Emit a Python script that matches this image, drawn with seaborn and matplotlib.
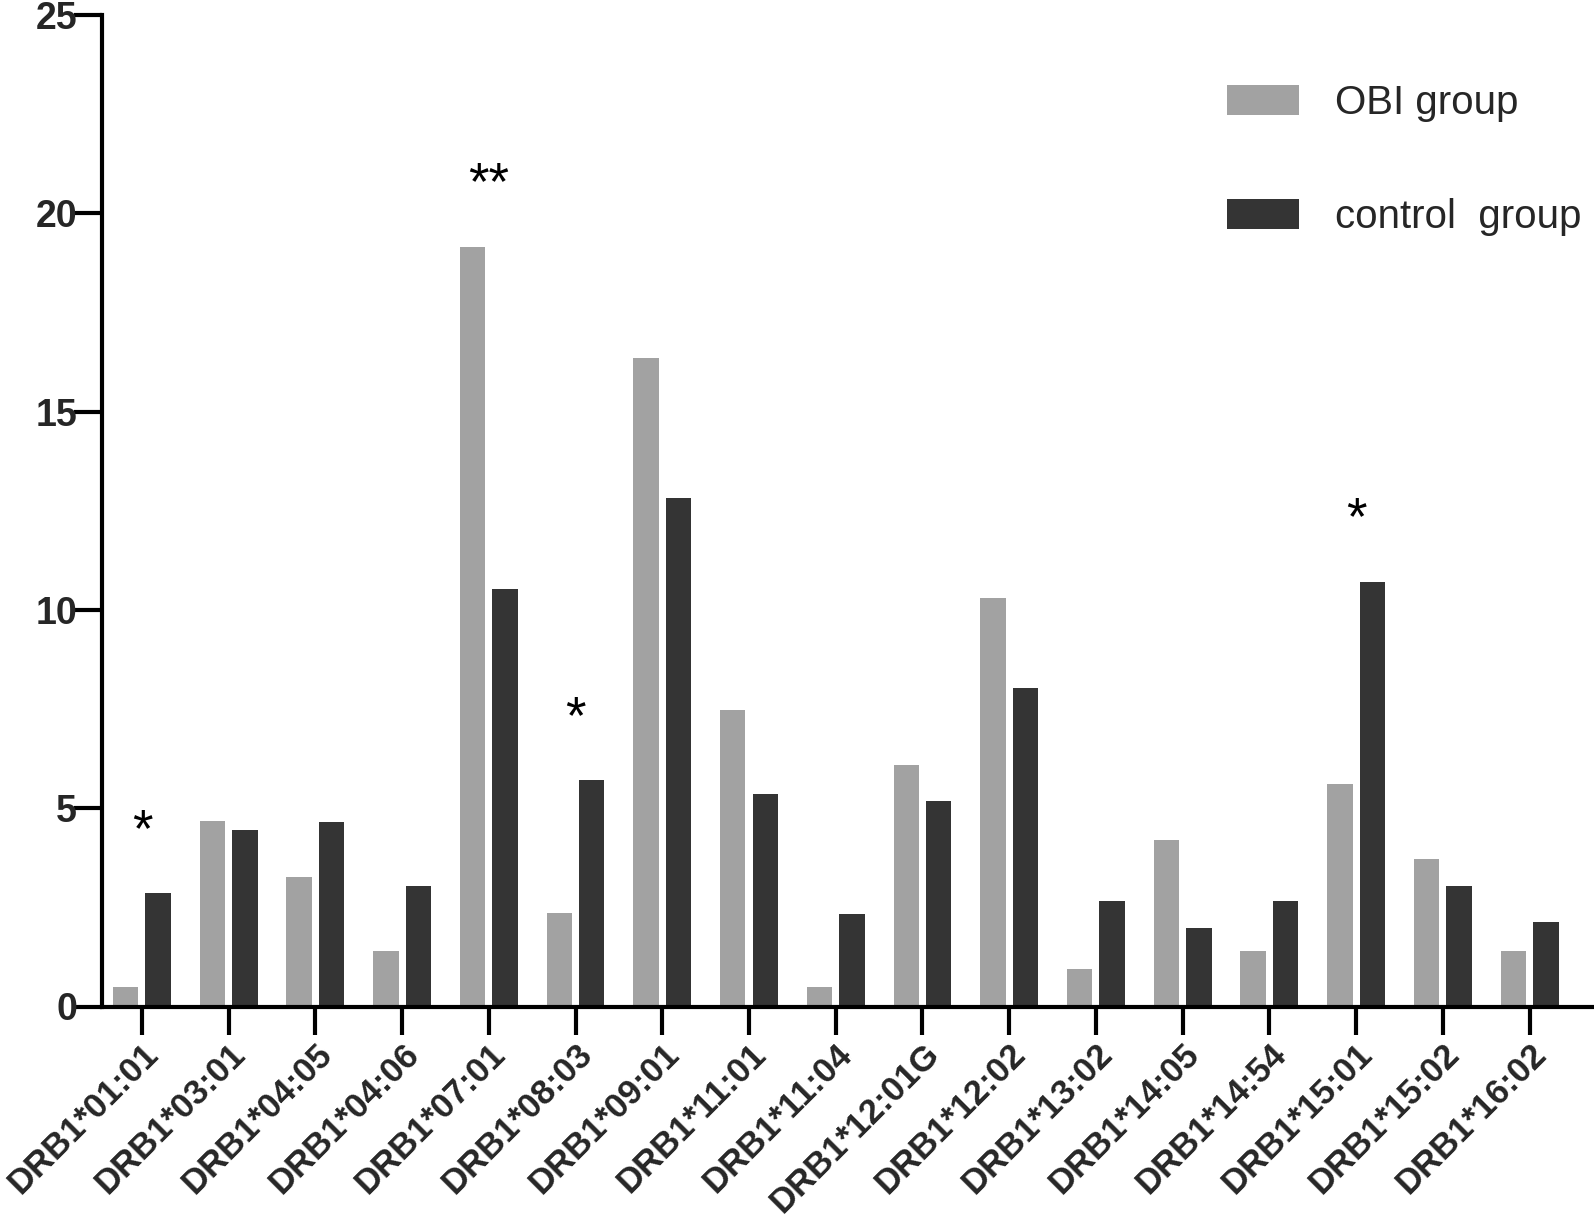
import matplotlib
matplotlib.use("Agg")
import matplotlib.pyplot as plt
import seaborn as sns
import pandas as pd

alleles = ["DRB1*01:01", "DRB1*03:01", "DRB1*04:05", "DRB1*04:06", "DRB1*07:01",
           "DRB1*08:03", "DRB1*09:01", "DRB1*11:01", "DRB1*11:04", "DRB1*12:01G",
           "DRB1*12:02", "DRB1*13:02", "DRB1*14:05", "DRB1*14:54", "DRB1*15:01",
           "DRB1*15:02", "DRB1*16:02"]
obi_group = [0.48, 4.67, 3.26, 1.39, 19.16, 2.35, 16.36, 7.48, 0.48, 6.08,
             10.30, 0.94, 4.20, 1.39, 5.61, 3.73, 1.39]
control_group = [2.85, 4.45, 4.64, 3.03, 10.53, 5.70, 12.83, 5.36, 2.33, 5.18,
                 8.03, 2.67, 1.97, 2.67, 10.71, 3.03, 2.12]
significance = ["*", "", "", "", "**", "*", "", "", "", "", "", "", "", "", "*", "", ""]
series_names = ["OBI group", "control  group"]
y_ticks = [0, 5, 10, 15, 20, 25]

df = pd.DataFrame({
    "allele": alleles * 2,
    "value": obi_group + control_group,
    "group": [series_names[0]] * len(alleles) + [series_names[1]] * len(alleles),
})

sns.set_style("ticks")
plt.rcParams["font.family"] = ["Liberation Sans", "DejaVu Sans"]

W, H = 1594, 1219
fig = plt.figure(figsize=(W / 100, H / 100), dpi=100)
left, right, top, bottom = 102, 1592, 15, 1006.5
ax = fig.add_axes([left / W, (H - bottom) / H, (right - left) / W, (bottom - top) / H])

sns.barplot(data=df, x="allele", y="value", hue="group", order=alleles,
            hue_order=series_names, palette=["#a2a2a2", "#343434"],
            saturation=1, width=0.75, gap=0.22, linewidth=0, ax=ax)

ax.set_xlim(-0.46, 16.72)
ax.set_ylim(0, 25)
ax.set_yticks(y_ticks)
ax.set_yticklabels([str(v) for v in y_ticks], fontsize=27, fontweight="bold")
ax.set_xlabel("")
ax.set_ylabel("")
sns.despine(ax=ax)
for s in ["left", "bottom"]:
    ax.spines[s].set_linewidth(3.0)
    ax.spines[s].set_color("black")
ax.tick_params(axis="both", direction="out", length=20, width=3.0, color="black")
ax.tick_params(axis="y", pad=-2)
ax.tick_params(axis="x", pad=2)

ax.set_xticks(range(len(alleles)))
ax.set_xticklabels(alleles, rotation=45, ha="right", rotation_mode="anchor",
                   fontsize=25, fontweight="bold")

for i, mark in enumerate(significance):
    if mark:
        ymax = max(obi_group[i], control_group[i])
        ax.text(i, ymax + 1.55, mark, ha="center", va="center", fontsize=38,
                color="black")

handles, labels = ax.get_legend_handles_labels()
ax.legend(handles, labels, loc="upper left", bbox_to_anchor=(1227 / W, 1 - 84 / H),
          bbox_transform=fig.transFigure, frameon=False, prop={"size": 29},
          handlelength=1.78, handleheight=0.78, handletextpad=0.9,
          labelspacing=1.88, borderpad=0, borderaxespad=0)

fig.savefig("out.png", dpi=100)
